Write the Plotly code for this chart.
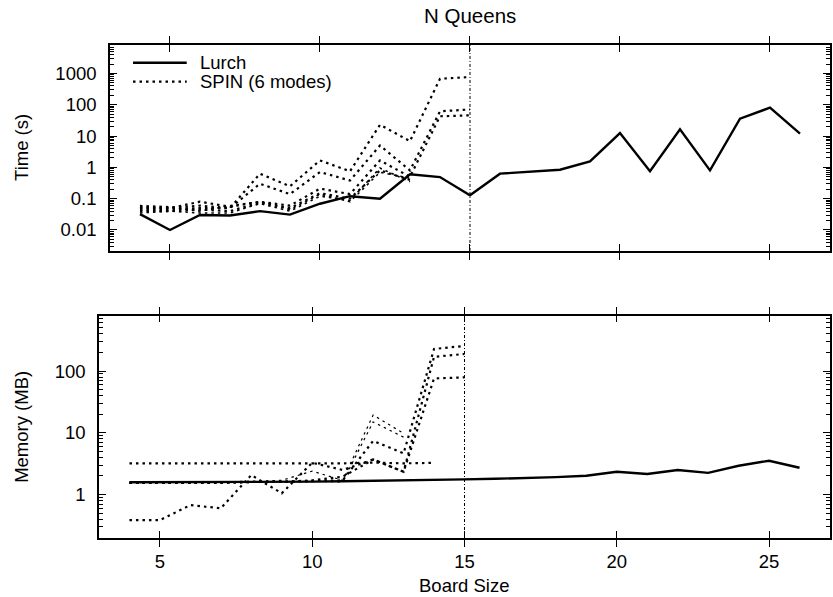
import plotly.graph_objects as go

# ---------------- data ----------------
lurch_x = list(range(4, 27))
lurch_time = [0.032, 0.01, 0.03, 0.029, 0.04, 0.031, 0.069, 0.12, 0.1, 0.6, 0.49, 0.128,
              0.63, 0.71, 0.84, 1.55, 12.5, 0.75, 16.4, 0.8, 36, 81, 12]
lurch_mem = [1.58, 1.58, 1.59, 1.6, 1.6, 1.61, 1.62, 1.64, 1.66, 1.7, 1.73, 1.76,
             1.8, 1.85, 1.92, 2.02, 2.34, 2.15, 2.5, 2.25, 2.93, 3.53, 2.72]

# SPIN, six modes (board sizes start at 4)
spin_time = [
    [0.05, 0.05, 0.06, 0.05, 0.63, 0.25, 1.67, 0.75, 23, 6.9, 680, 770],
    [0.045, 0.045, 0.05, 0.05, 0.3, 0.14, 0.71, 0.38, 5, 0.8, 62, 71],
    [0.055, 0.05, 0.08, 0.055, 0.08, 0.06, 0.21, 0.14, 1.67, 0.5, 43, 46],
    [0.04, 0.04, 0.045, 0.04, 0.075, 0.05, 0.15, 0.1, 0.8, 0.4],
    [0.06, 0.055, 0.04, 0.06, 0.08, 0.045, 0.14, 0.08, 0.7, 0.45],
    [0.035, 0.04, 0.035, 0.035, 0.07, 0.04, 0.12, 0.088, 0.95, 0.35],
]
spin_mem = [
    [1.55, 1.55, 1.55, 1.55, 1.6, 1.6, 1.65, 1.7, 7.4, 4.65, 228, 255],
    [1.55, 1.55, 1.55, 1.55, 1.6, 1.6, 1.7, 1.94, 3.7, 2.34, 170, 189],
    [0.386, 0.386, 0.675, 0.6, 2.07, 1.05, 3.28, 2.5, 3.7, 2.34, 76, 79],
    [3.2, 3.2, 3.2, 3.2, 3.2, 3.2, 3.2, 3.2, 3.3, 3.2, 3.27],
    [1.55, 1.55, 1.55, 1.6, 1.65, 1.7, 2.4, 1.7, 19.4, 9.8],
    [1.55, 1.55, 1.55, 1.6, 1.6, 1.65, 1.65, 1.6, 15, 8.5],
]
spin_width = [2.2, 2.2, 2.2, 2.2, 1.2, 1.2]
cutoff = 15
x_ticks = [5, 10, 15, 20, 25]
time_ticks = [0.01, 0.1, 1, 10, 100, 1000]
time_labels = ["0.01", "0.1", "1", "10", "100", "1000"]
mem_ticks = [1, 10, 100]
mem_labels = ["1", "10", "100"]
minor_mult = [2, 3, 4, 5, 6, 7, 8, 9]
time_minor = [m * d for d in [0.001, 0.01, 0.1, 1, 10, 100, 1000] for m in minor_mult]
mem_minor = [m * d for d in [0.1, 1, 10, 100] for m in minor_mult]
legend_names = ["Lurch", "SPIN (6 modes)"]

FONT = "Liberation Sans, Arial, sans-serif"
FS = 18.5
DOT = "2.5px,4px"
TIME_RANGE = [-2.671, 3.911]
MEM_RANGE = [-0.703, 2.896]

fig = go.Figure()

fig.add_trace(go.Scatter(x=lurch_x, y=lurch_time, mode="lines", showlegend=False,
                         line=dict(color="black", width=2.4), xaxis="x", yaxis="y"))
for i, ys in enumerate(spin_time):
    fig.add_trace(go.Scatter(x=list(range(4, 4 + len(ys))), y=ys, mode="lines",
                             showlegend=False,
                             line=dict(color="black", width=2.2 if i < 4 else 1.6, dash=DOT),
                             xaxis="x", yaxis="y"))

fig.add_trace(go.Scatter(x=lurch_x, y=lurch_mem, mode="lines", showlegend=False,
                         line=dict(color="black", width=2.4), xaxis="x2", yaxis="y2"))
for i, ys in enumerate(spin_mem):
    fig.add_trace(go.Scatter(x=list(range(4, 4 + len(ys))), y=ys, mode="lines",
                             showlegend=False,
                             line=dict(color="black", width=spin_width[i], dash=DOT),
                             xaxis="x2", yaxis="y2"))

# empty traces that carry the minor-tick axes
fig.add_trace(go.Scatter(x=[], y=[], showlegend=False, hoverinfo="skip", xaxis="x", yaxis="y3"))
fig.add_trace(go.Scatter(x=[], y=[], showlegend=False, hoverinfo="skip", xaxis="x2", yaxis="y4"))

axis_common = dict(showline=True, linecolor="black", linewidth=1.5, mirror="allticks",
                   ticks="inside", ticklen=7, tickwidth=1.2, tickcolor="black",
                   showgrid=False, zeroline=False,
                   tickfont=dict(family=FONT, size=FS, color="black"))
minor_axis = dict(type="log", showline=False, mirror="allticks", ticks="inside", ticklen=4,
                  tickwidth=1, tickcolor="black", showticklabels=False, showgrid=False,
                  zeroline=False, side="left")

# manual legend (top-left of the upper panel)
leg_y = [0.914, 0.822]
leg_dash = ["solid", DOT]
shapes = []
annotations = []
for name, ly, dsh in zip(legend_names, leg_y, leg_dash):
    shapes.append(dict(type="line", xref="x domain", yref="y domain", x0=0.032, x1=0.1066,
                       y0=ly, y1=ly, line=dict(color="black", width=2.4 if dsh == "solid" else 2.2,
                                               dash=dsh)))
    annotations.append(dict(text=name, xref="x domain", yref="y domain", x=0.1219, y=ly,
                            xanchor="left", yanchor="middle", showarrow=False,
                            font=dict(family=FONT, size=FS, color="black")))

shapes += [
    dict(type="line", xref="x", yref="y domain", x0=cutoff, x1=cutoff, y0=0, y1=1,
         line=dict(color="black", width=1, dash="3px,2px,1px,2px")),
    dict(type="line", xref="x2", yref="y2 domain", x0=cutoff, x1=cutoff, y0=0, y1=1,
         line=dict(color="black", width=1, dash="3px,2px,1px,2px")),
]
annotations += [
    dict(text="N Queens", xref="x domain", yref="paper", x=0.5, y=1, yshift=30,
         xanchor="center", yanchor="middle", showarrow=False,
         font=dict(family=FONT, size=20.5, color="black")),
    dict(text="Board Size", xref="x2 domain", yref="paper", x=0.5, y=0, yshift=-47,
         xanchor="center", yanchor="middle", showarrow=False,
         font=dict(family=FONT, size=FS, color="black")),
    dict(text="Time (s)", xref="paper", yref="y domain", x=0, xshift=-77, y=0.5,
         xanchor="center", yanchor="middle",
         textangle=-90, showarrow=False, font=dict(family=FONT, size=FS, color="black")),
    dict(text="Memory (MB)", xref="paper", yref="y2 domain", x=0, xshift=-77, y=0.5,
         xanchor="center", yanchor="middle",
         textangle=-90, showarrow=False, font=dict(family=FONT, size=FS, color="black")),
]

fig.update_layout(
    width=833, height=597,
    margin=dict(l=99, r=1, t=45, b=59),
    paper_bgcolor="white", plot_bgcolor="white",
    font=dict(family=FONT, size=FS, color="black"),
    showlegend=False,
    xaxis=dict(domain=[0.015, 1], anchor="y", range=[3, 27], tickvals=x_ticks,
               showticklabels=False, **axis_common),
    yaxis=dict(domain=[0.5822, 1], anchor="x", type="log", range=TIME_RANGE,
               tickvals=time_ticks, ticktext=time_labels, ticklabelstandoff=8,
               **axis_common),
    yaxis3=dict(overlaying="y", anchor="x", range=TIME_RANGE, tickvals=time_minor,
                **minor_axis),
    xaxis2=dict(domain=[0, 1], anchor="y2", range=[3, 27], tickvals=x_ticks,
                ticktext=[str(v) for v in x_ticks], ticklabelstandoff=6, **axis_common),
    yaxis2=dict(domain=[0, 0.4509], anchor="x2", type="log", range=MEM_RANGE,
                tickvals=mem_ticks, ticktext=mem_labels, ticklabelstandoff=8,
                **axis_common),
    yaxis4=dict(overlaying="y2", anchor="x2", range=MEM_RANGE, tickvals=mem_minor,
                **minor_axis),
    shapes=shapes,
    annotations=annotations,
)

fig.write_html("out.html", config={"displayModeBar": False},
               post_script="document.body.style.margin='0';document.body.style.overflow='hidden';")
